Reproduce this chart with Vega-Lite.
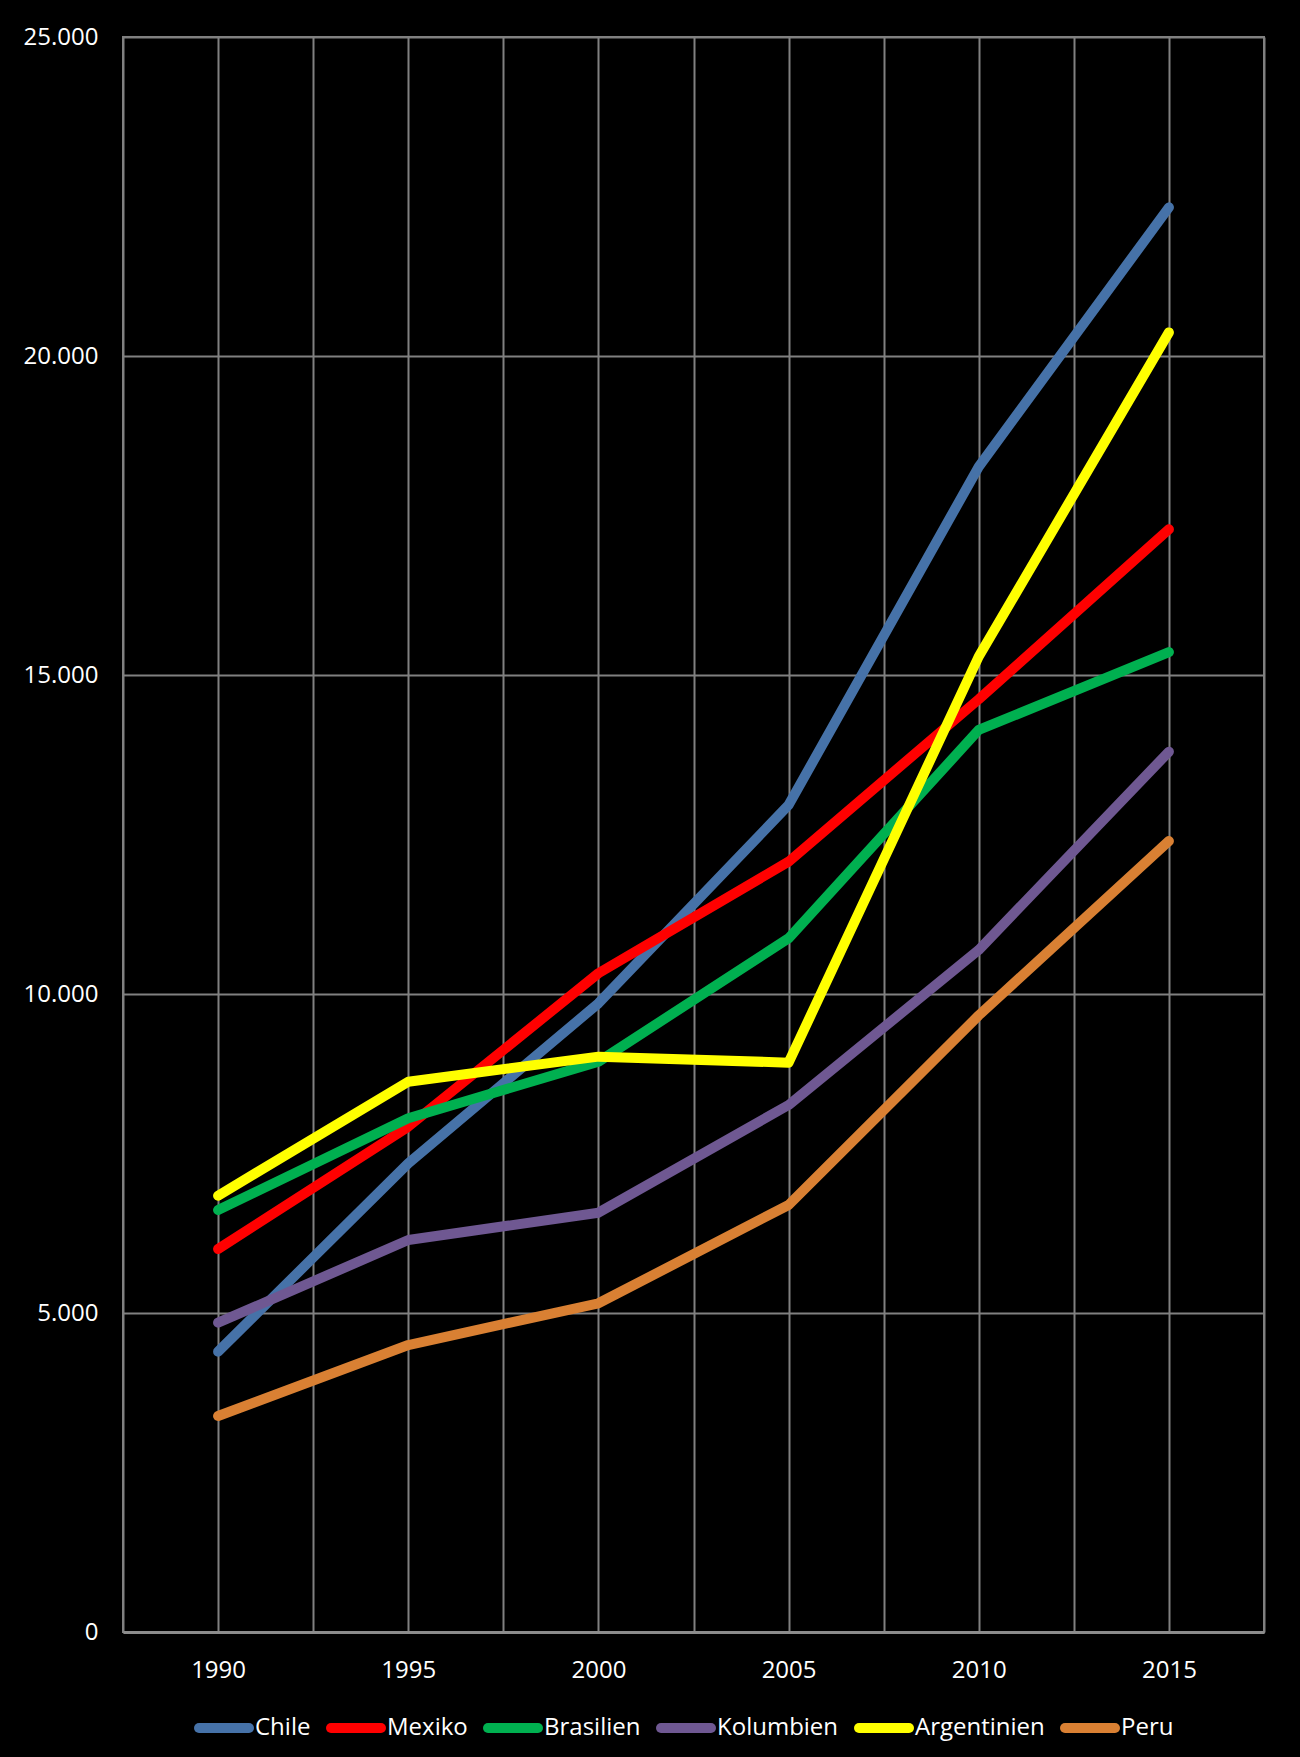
{
  "$schema": "https://vega.github.io/schema/vega-lite/v6.json",
  "width": 1141,
  "height": 1595,
  "autosize": {"type": "none"},
  "padding": {"left": 123, "top": 37, "right": 36, "bottom": 125},
  "background": "#000000",
  "config": {
    "view": {"stroke": "#808080", "strokeWidth": 2},
    "font": "Open Sans",
    "axis": {"labelFont": "Open Sans", "labelFontSize": 24, "labelColor": "#ffffff", "titleColor": "#ffffff"},
    "legend": {"labelFont": "Open Sans", "labelFontSize": 24, "labelColor": "#ffffff"}
  },
  "data": {
    "values": [
      {"Land": "Chile", "Jahr": 1990, "Wert": 4394},
      {"Land": "Chile", "Jahr": 1995, "Wert": 7346},
      {"Land": "Chile", "Jahr": 2000, "Wert": 9854},
      {"Land": "Chile", "Jahr": 2005, "Wert": 12962},
      {"Land": "Chile", "Jahr": 2010, "Wert": 18265},
      {"Land": "Chile", "Jahr": 2015, "Wert": 22330},
      {"Land": "Mexiko", "Jahr": 1990, "Wert": 6003},
      {"Land": "Mexiko", "Jahr": 1995, "Wert": 7920},
      {"Land": "Mexiko", "Jahr": 2000, "Wert": 10325},
      {"Land": "Mexiko", "Jahr": 2005, "Wert": 12074},
      {"Land": "Mexiko", "Jahr": 2010, "Wert": 14620},
      {"Land": "Mexiko", "Jahr": 2015, "Wert": 17283},
      {"Land": "Brasilien", "Jahr": 1990, "Wert": 6614},
      {"Land": "Brasilien", "Jahr": 1995, "Wert": 8052},
      {"Land": "Brasilien", "Jahr": 2000, "Wert": 8939},
      {"Land": "Brasilien", "Jahr": 2005, "Wert": 10873},
      {"Land": "Brasilien", "Jahr": 2010, "Wert": 14138},
      {"Land": "Brasilien", "Jahr": 2015, "Wert": 15360},
      {"Land": "Kolumbien", "Jahr": 1990, "Wert": 4848},
      {"Land": "Kolumbien", "Jahr": 1995, "Wert": 6144},
      {"Land": "Kolumbien", "Jahr": 2000, "Wert": 6572},
      {"Land": "Kolumbien", "Jahr": 2005, "Wert": 8260},
      {"Land": "Kolumbien", "Jahr": 2010, "Wert": 10690},
      {"Land": "Kolumbien", "Jahr": 2015, "Wert": 13798},
      {"Land": "Argentinien", "Jahr": 1990, "Wert": 6839},
      {"Land": "Argentinien", "Jahr": 1995, "Wert": 8625},
      {"Land": "Argentinien", "Jahr": 2000, "Wert": 9018},
      {"Land": "Argentinien", "Jahr": 2005, "Wert": 8924},
      {"Land": "Argentinien", "Jahr": 2010, "Wert": 15290},
      {"Land": "Argentinien", "Jahr": 2015, "Wert": 20370},
      {"Land": "Peru", "Jahr": 1990, "Wert": 3386},
      {"Land": "Peru", "Jahr": 1995, "Wert": 4498},
      {"Land": "Peru", "Jahr": 2000, "Wert": 5152},
      {"Land": "Peru", "Jahr": 2005, "Wert": 6693},
      {"Land": "Peru", "Jahr": 2010, "Wert": 9665},
      {"Land": "Peru", "Jahr": 2015, "Wert": 12398}
    ]
  },
  "mark": {"type": "line", "strokeWidth": 10, "strokeCap": "round", "strokeJoin": "round"},
  "encoding": {
    "x": {
      "field": "Jahr",
      "type": "quantitative",
      "scale": {"domain": [1987.5, 2017.5], "nice": false, "zero": false},
      "axis": {
        "title": null,
        "values": [1987.5, 1990, 1992.5, 1995, 1997.5, 2000, 2002.5, 2005, 2007.5, 2010, 2012.5, 2015, 2017.5],
        "labelExpr": "datum.value % 5 === 0 ? '' + datum.value : ''",
        "grid": true,
        "gridColor": "#808080",
        "gridWidth": 2,
        "ticks": false,
        "domain": true,
        "domainColor": "#8c8c8c",
        "domainWidth": 3,
        "labelPadding": 26,
        "labelFlush": false,
        "labelOverlap": false
      }
    },
    "y": {
      "field": "Wert",
      "type": "quantitative",
      "scale": {"domain": [0, 25000], "nice": false},
      "axis": {
        "title": null,
        "values": [0, 5000, 10000, 15000, 20000, 25000],
        "labelExpr": "replace(format(datum.value, ','), ',', '.')",
        "grid": true,
        "gridColor": "#808080",
        "gridWidth": 2,
        "ticks": false,
        "domain": false,
        "labelPadding": 25
      }
    },
    "color": {
      "field": "Land",
      "type": "nominal",
      "sort": null,
      "scale": {
        "domain": ["Chile", "Mexiko", "Brasilien", "Kolumbien", "Argentinien", "Peru"],
        "range": ["#4672A8", "#FF0000", "#00B050", "#6F5892", "#FFFF00", "#D98033"]
      },
      "legend": {
        "title": null,
        "orient": "none",
        "direction": "horizontal",
        "legendX": 71,
        "legendY": 1661,
        "padding": 0,
        "symbolType": "stroke",
        "symbolSize": 2500,
        "symbolStrokeWidth": 10,
        "labelOffset": 1,
        "columnPadding": 0,
        "encode": {"symbols": {"update": {"strokeCap": {"value": "round"}}}}
      }
    }
  }
}
